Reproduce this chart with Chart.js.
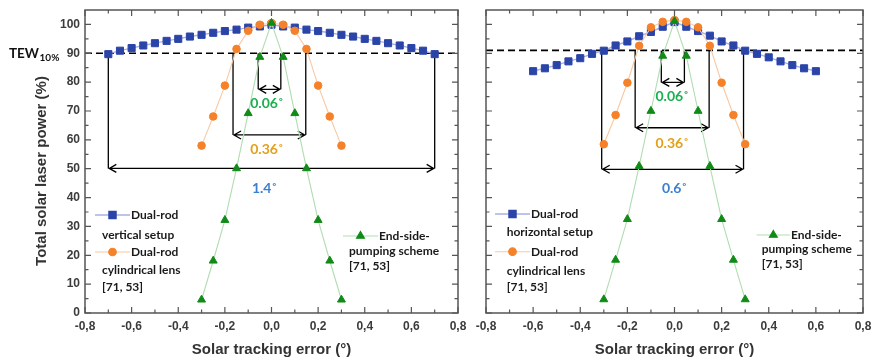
<!DOCTYPE html>
<html>
<head>
<meta charset="utf-8">
<script src="https://cdn.jsdelivr.net/npm/chart.js@4.4.0/dist/chart.umd.min.js"></script>
<style>
  html, body { margin: 0; padding: 0; background: #fff; }
  #wrap { position: relative; width: 876px; height: 362px; }
  #left { position: absolute; left: 0; top: 0; }
  #right { position: absolute; left: 462px; top: 0; }
</style>
</head>
<body>
<div id="wrap">
  <canvas id="left" width="474" height="362" style="width:474px;height:362px"></canvas>
  <canvas id="right" width="414" height="362" style="width:414px;height:362px"></canvas>
</div>
<script>
// tick labels
const xTicks = [-0.8, -0.6, -0.4, -0.2, 0, 0.2, 0.4, 0.6, 0.8];
const yTicks = [0, 10, 20, 30, 40, 50, 60, 70, 80, 90, 100];

// left panel: dual-rod vertical setup
const vertX = [-0.7, -0.65, -0.6, -0.55, -0.5, -0.45, -0.4, -0.35, -0.3, -0.25, -0.2, -0.15, -0.1, -0.05, 0,
               0.05, 0.1, 0.15, 0.2, 0.25, 0.3, 0.35, 0.4, 0.45, 0.5, 0.55, 0.6, 0.65, 0.7];
const vertPower = [89.7, 90.9, 91.8, 92.7, 93.5, 94.3, 95.0, 95.8, 96.4, 97.1, 97.7, 98.2, 98.9, 99.3, 99.9,
                   99.3, 98.9, 98.2, 97.7, 97.1, 96.4, 95.8, 95.0, 94.3, 93.5, 92.7, 91.8, 90.9, 89.7];

// right panel: dual-rod horizontal setup
const horizX = [-0.6, -0.55, -0.5, -0.45, -0.4, -0.35, -0.3, -0.25, -0.2, -0.15, -0.1, -0.05, 0,
                0.05, 0.1, 0.15, 0.2, 0.25, 0.3, 0.35, 0.4, 0.45, 0.5, 0.55, 0.6];
const horizPower = [83.8, 84.8, 85.9, 87.2, 88.3, 89.8, 90.9, 92.7, 94.1, 95.9, 97.4, 99.2, 100.8,
                    99.2, 97.7, 96.1, 94.1, 92.7, 90.9, 89.8, 88.6, 87.2, 85.9, 84.8, 83.8];

// cylindrical lens and end-side-pumping share the same error steps
const refX = [-0.3, -0.25, -0.2, -0.15, -0.1, -0.05, 0, 0.05, 0.1, 0.15, 0.2, 0.25, 0.3];
const cylLeft = [58.0, 68.1, 78.8, 91.5, 97.8, 99.9, 100.5, 99.9, 97.8, 91.5, 78.8, 68.1, 58.0];
const cylRight = [58.5, 68.6, 79.8, 92.6, 99.0, 100.9, 101.5, 100.9, 99.0, 92.6, 79.8, 68.6, 58.5];
const endLeft = [4.6, 18.1, 32.2, 50.1, 69.2, 88.7, 100.5, 88.7, 69.2, 50.1, 32.2, 18.1, 4.6];
const endRight = [4.7, 18.4, 32.5, 50.9, 70.0, 89.1, 101.1, 89.1, 70.0, 50.9, 32.5, 18.4, 4.7];

// TEW 10% thresholds and widths (lo, hi, arrow level, label)
const leftThreshold = 90;
const rightThreshold = 91;
const leftSpans = [
  { lo: -0.7, hi: 0.7, at: 50.1, text: '1.4˚', lx: -0.03, ly: 43 },
  { lo: -0.165, hi: 0.147, at: 61.7, text: '0.36˚', lx: -0.02, ly: 56.5 },
  { lo: -0.057, hi: 0.04, at: 77.5, text: '0.06˚', lx: -0.02, ly: 72.6 }
];
const rightSpans = [
  { lo: -0.309, hi: 0.293, at: 49.8, text: '0.6˚', lx: 0.0, ly: 43.2 },
  { lo: -0.167, hi: 0.147, at: 64.2, text: '0.36˚', lx: -0.01, ly: 58.8 },
  { lo: -0.056, hi: 0.042, at: 79.9, text: '0.06˚', lx: -0.01, ly: 74.9 }
];

const spanColors = ['#3b7fd1', '#e3a01b', '#1aaf4f'];

const BLUE = { pointStyle: 'rect', radius: 5, fill: '#2a44a8', line: '#a7b0e6', width: 1.4 };
const ORANGE = { pointStyle: 'circle', radius: 3.8, fill: '#f5822a', line: '#f9c8a2', width: 1.1 };
const GREEN = { pointStyle: 'triangle', radius: 4.6, fill: '#118a17', line: '#b0ddb0', width: 1.1 };

const AXIS_FONT = '"Liberation Sans", Arial, sans-serif';

function pts(xs, ys) {
  return xs.map((x, i) => ({ x: x, y: ys[i] }));
}

function series(label, xs, ys, st, order) {
  return {
    label: label,
    data: pts(xs, ys),
    order: order,
    borderColor: st.line,
    borderWidth: st.width,
    pointStyle: st.pointStyle,
    pointRadius: st.radius,
    pointBackgroundColor: st.fill,
    pointBorderColor: st.fill,
    pointBorderWidth: 1,
    tension: 0
  };
}

function drawSpan(ctx, xs, ys, s, thr) {
  const x1 = xs.getPixelForValue(s.lo), x2 = xs.getPixelForValue(s.hi);
  const yt = ys.getPixelForValue(thr), ya = ys.getPixelForValue(s.at);
  ctx.strokeStyle = '#000';
  ctx.lineWidth = 1.3;
  ctx.beginPath();
  ctx.moveTo(x1, yt); ctx.lineTo(x1, ya);
  ctx.moveTo(x2, yt); ctx.lineTo(x2, ya);
  ctx.moveTo(x1 + 1, ya); ctx.lineTo(x2 - 1, ya);
  ctx.moveTo(x1 + 8, ya - 4); ctx.lineTo(x1 + 1, ya); ctx.lineTo(x1 + 8, ya + 4);
  ctx.moveTo(x2 - 8, ya - 4); ctx.lineTo(x2 - 1, ya); ctx.lineTo(x2 - 8, ya + 4);
  ctx.stroke();
}

function legendItem(ctx, st, x1, x2, y, text) {
  ctx.strokeStyle = st.line;
  ctx.lineWidth = st.width;
  ctx.beginPath(); ctx.moveTo(x1, y); ctx.lineTo(x2, y); ctx.stroke();
  ctx.fillStyle = st.fill;
  ctx.strokeStyle = st.fill;
  Chart.helpers.drawPoint(ctx, { pointStyle: st.pointStyle, radius: st.radius, rotation: 0, borderWidth: 1 }, (x1 + x2) / 2, y);
  ctx.fillStyle = '#1a1a1a';
  ctx.fillText(text, x2 + 1, y);
}

const framePlugin = {
  id: 'frame',
  beforeDatasetsDraw(chart, args, o) {
    const { ctx, chartArea: a, scales: { x, y } } = chart;
    ctx.save();
    const ty = y.getPixelForValue(o.threshold);
    ctx.setLineDash([7, 4]);
    ctx.lineWidth = 1.6;
    ctx.strokeStyle = '#000';
    ctx.beginPath(); ctx.moveTo(a.left, ty); ctx.lineTo(a.right, ty); ctx.stroke();
    ctx.setLineDash([]);
    o.spans.forEach(s => drawSpan(ctx, x, y, s, o.threshold));
    ctx.restore();
  },
  afterDatasetsDraw(chart, args, o) {
    const { ctx, chartArea: a, scales: { x, y } } = chart;
    ctx.save();
    // frame with inward ticks on all sides
    ctx.strokeStyle = '#555';
    ctx.lineWidth = 1.5;
    ctx.strokeRect(a.left, a.top, a.right - a.left, a.bottom - a.top);
    ctx.lineWidth = 1.2;
    ctx.beginPath();
    for (let i = 0; i <= 16; i++) {
      const px = x.getPixelForValue(-0.8 + i * 0.1);
      const len = i % 2 === 0 ? 6 : 3.5;
      ctx.moveTo(px, a.bottom); ctx.lineTo(px, a.bottom - len);
      ctx.moveTo(px, a.top); ctx.lineTo(px, a.top + len);
    }
    for (let i = 0; i <= 20; i++) {
      const py = y.getPixelForValue(i * 5);
      const len = i % 2 === 0 ? 6 : 3.5;
      ctx.moveTo(a.left, py); ctx.lineTo(a.left + len, py);
      ctx.moveTo(a.right, py); ctx.lineTo(a.right - len, py);
    }
    ctx.stroke();

    // width labels
    ctx.font = 'bold 14px Lato';
    ctx.textAlign = 'center';
    ctx.textBaseline = 'middle';
    o.spans.forEach((s, i) => {
      ctx.fillStyle = spanColors[i];
      ctx.fillText(s.text, x.getPixelForValue(s.lx), y.getPixelForValue(s.ly));
    });

    // legend text blocks
    ctx.font = 'bold 12px Lato';
    ctx.textAlign = 'left';
    o.legend.forEach(it => {
      if (it.st) {
        legendItem(ctx, it.st, it.x1, it.x2, it.y, it.text);
      } else {
        ctx.fillStyle = '#1a1a1a';
        ctx.fillText(it.text, it.x, it.y);
      }
    });

    // axis titles
    ctx.fillStyle = '#333';
    ctx.font = 'bold 15px ' + AXIS_FONT;
    ctx.textAlign = 'center';
    ctx.fillText('Solar tracking error (°)', (a.left + a.right) / 2, 350);
    if (o.yTitle) {
      ctx.save();
      ctx.translate(42, 171);
      ctx.rotate(-Math.PI / 2);
      ctx.fillText(o.yTitle, 0, 0);
      ctx.restore();
      // TEW10% marker next to the 90 label
      ctx.fillStyle = '#111';
      ctx.textAlign = 'left';
      ctx.textBaseline = 'alphabetic';
      ctx.font = 'bold 13.5px Lato';
      ctx.fillText('TEW', 9, 58);
      const w = ctx.measureText('TEW').width;
      ctx.font = 'bold 10px Lato';
      ctx.fillText('10%', 9 + w + 0.5, 61);
    }
    ctx.restore();
  }
};

function makeChart(id, datasets, opts) {
  return new Chart(document.getElementById(id), {
    type: 'line',
    data: { datasets: datasets },
    plugins: [framePlugin],
    options: {
      responsive: false,
      animation: false,
      layout: { padding: { top: 10, right: opts.padRight, left: 0, bottom: 0 } },
      plugins: {
        legend: { display: false },
        tooltip: { enabled: false },
        frame: opts.frame
      },
      scales: {
        x: {
          type: 'linear',
          min: -0.8,
          max: 0.8,
          grid: { display: false, drawTicks: false },
          border: { display: false },
          afterBuildTicks: s => { s.ticks = xTicks.map(v => ({ value: v })); },
          afterFit: s => { s.height = 49; s.paddingLeft = 0; s.paddingRight = 0; },
          ticks: {
            padding: 6,
            color: '#3c3c3c',
            font: { family: AXIS_FONT, size: 12, weight: 'bold' },
            callback: v => v.toFixed(1).replace('.', ',')
          }
        },
        y: {
          min: 0,
          max: 105,
          grid: { display: false, drawTicks: false },
          border: { display: false },
          afterBuildTicks: s => { s.ticks = yTicks.map(v => ({ value: v })); },
          afterFit: s => { s.width = opts.yWidth; s.paddingTop = 0; s.paddingBottom = 0; },
          ticks: {
            display: opts.yLabels,
            padding: 5,
            color: '#3c3c3c',
            font: { family: AXIS_FONT, size: 12, weight: 'bold' }
          }
        }
      }
    }
  });
}

makeChart('left', [
  series('End-side-pumping scheme [71, 53]', refX, endLeft, GREEN, 0),
  series('Dual-rod cylindrical lens [71, 53]', refX, cylLeft, ORANGE, 1),
  series('Dual-rod vertical setup', vertX, vertPower, BLUE, 2)
], {
  padRight: 16,
  yWidth: 85,
  yLabels: true,
  frame: {
    threshold: leftThreshold,
    spans: leftSpans,
    yTitle: 'Total solar laser power (%)',
    legend: [
      { st: BLUE, x1: 95, x2: 130, y: 215, text: 'Dual-rod' },
      { text: 'vertical setup', x: 102, y: 235 },
      { st: ORANGE, x1: 95, x2: 130, y: 252, text: 'Dual-rod' },
      { text: 'cylindrical lens', x: 102, y: 270.5 },
      { text: '[71, 53]', x: 102, y: 287 },
      { st: GREEN, x1: 343, x2: 378, y: 236, text: 'End-side-' },
      { text: 'pumping scheme', x: 349, y: 251.5 },
      { text: '[71, 53]', x: 349, y: 266.5 }
    ]
  }
});

makeChart('right', [
  series('End-side-pumping scheme [71, 53]', refX, endRight, GREEN, 0),
  series('Dual-rod cylindrical lens [71, 53]', refX, cylRight, ORANGE, 1),
  series('Dual-rod horizontal setup', horizX, horizPower, BLUE, 2)
], {
  padRight: 13,
  yWidth: 24,
  yLabels: false,
  frame: {
    threshold: rightThreshold,
    spans: rightSpans,
    yTitle: null,
    legend: [
      { st: BLUE, x1: 33, x2: 68, y: 214, text: 'Dual-rod' },
      { text: 'horizontal setup', x: 44.7, y: 232 },
      { st: ORANGE, x1: 33, x2: 68, y: 251.7, text: 'Dual-rod' },
      { text: 'cylindrical lens', x: 44.7, y: 270.7 },
      { text: '[71, 53]', x: 44.7, y: 287.3 },
      { st: GREEN, x1: 294.7, x2: 328, y: 235, text: 'End-side-' },
      { text: 'pumping scheme', x: 299.7, y: 249 },
      { text: '[71, 53]', x: 299.7, y: 264 }
    ]
  }
});
</script>
</body>
</html>
